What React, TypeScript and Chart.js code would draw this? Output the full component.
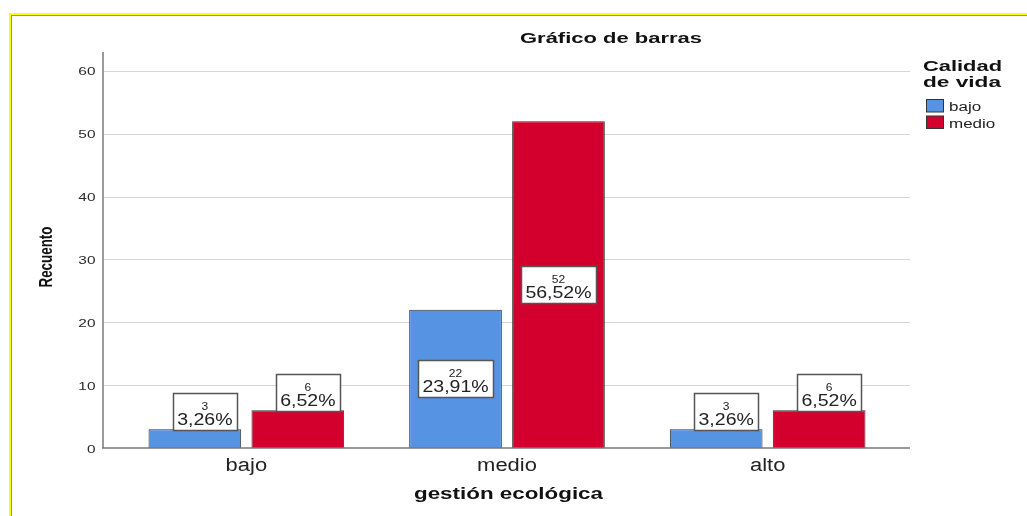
import React, { useEffect, useRef } from "react";
import { Chart, registerables } from "chart.js";

Chart.register(...registerables);

const categories = ["bajo", "medio", "alto"];
const seriesNames = ["bajo", "medio"];
const bajoCounts = [3, 22, 3];
const medioCounts = [6, 52, 6];
const bajoPercents = ["3,26%", "23,91%", "3,26%"];
const medioPercents = ["6,52%", "56,52%", "6,52%"];
const yTickValues = [0, 10, 20, 30, 40, 50, 60];
const chartTitle = "Gráfico de barras";
const legendTitle = ["Calidad", "de vida"];
const xAxisTitle = "gestión ecológica";
const yAxisTitle = "Recuento";

const BLUE = "#5694e3";
const RED = "#d3002e";
const FONT = "'Liberation Sans', Arial, sans-serif";

type Opts = { align?: CanvasTextAlign; width?: number; sx?: number; color?: string; baseline?: CanvasTextBaseline };

function drawText(ctx: CanvasRenderingContext2D, text: string, x: number, y: number, font: string, o: Opts = {}) {
  ctx.save();
  ctx.font = font;
  const w = ctx.measureText(text).width;
  const s = o.width ? o.width / w : o.sx ?? 1;
  ctx.translate(x, y);
  ctx.scale(s, 1);
  ctx.textAlign = o.align ?? "left";
  ctx.textBaseline = o.baseline ?? "alphabetic";
  ctx.fillStyle = o.color ?? "#111";
  ctx.fillText(text, 0, 0);
  ctx.restore();
  return w * s;
}

const decorPlugin = {
  id: "decor",
  beforeDatasetsDraw(chart: any) {
    const ctx: CanvasRenderingContext2D = chart.ctx;
    const ys = chart.scales.y;
    const area = chart.chartArea;
    const left = area.left - 13;
    const right = area.right + 12;
    ctx.save();
    ctx.strokeStyle = "#d6d6d6";
    ctx.lineWidth = 1.2;
    yTickValues.forEach((v) => {
      if (v === 0) return;
      const py = Math.round(ys.getPixelForValue(v)) + 0.5;
      ctx.beginPath();
      ctx.moveTo(left, py);
      ctx.lineTo(right, py);
      ctx.stroke();
    });
    ctx.strokeStyle = "#9a9a9a";
    ctx.lineWidth = 2;
    ctx.beginPath();
    ctx.moveTo(left, area.top);
    ctx.lineTo(left, ys.getPixelForValue(0));
    ctx.stroke();
    ctx.restore();
    yTickValues.forEach((v) => {
      const py = ys.getPixelForValue(v) + 1.5;
      drawText(ctx, String(v), left - 7.5, py, `11px ${FONT}`, { align: "right", sx: 1.4, baseline: "middle", color: "#2a2a2a" });
    });
  },
  afterDatasetsDraw(chart: any) {
    const ctx: CanvasRenderingContext2D = chart.ctx;
    const ys = chart.scales.y;
    const xs = chart.scales.x;
    const area = chart.chartArea;
    const left = area.left - 13;
    const right = area.right + 12;
    const y0 = ys.getPixelForValue(0);
    ctx.save();
    ctx.strokeStyle = "#777";
    ctx.lineWidth = 1.5;
    ctx.beginPath();
    ctx.moveTo(left - 1, y0);
    ctx.lineTo(right, y0);
    ctx.stroke();
    ctx.restore();

    const counts = [bajoCounts, medioCounts];
    const pcts = [bajoPercents, medioPercents];
    counts.forEach((arr, di) => {
      const meta = chart.getDatasetMeta(di);
      meta.data.forEach((bar: any, i: number) => {
        ctx.save();
        ctx.font = `16px ${FONT}`;
        const pw = ctx.measureText(pcts[di][i]).width * 1.22;
        ctx.restore();
        const bw = Math.round(pw + 9);
        const bh = 37;
        const hgt = bar.base - bar.y;
        let top: number;
        let cx = bar.x;
        if (hgt >= bh + 10) top = (bar.y + bar.base) / 2 - bh / 2;
        else {
          top = bar.y + 1 - bh;
          cx = bar.x + 10;
        }
        top = Math.round(top) + 0.5;
        const bl = Math.round(cx - bw / 2) + 0.5;
        ctx.save();
        ctx.fillStyle = "#ffffff";
        ctx.strokeStyle = "#555";
        ctx.lineWidth = 1.5;
        ctx.fillRect(bl, top, bw, bh);
        ctx.strokeRect(bl, top, bw, bh);
        ctx.restore();
        drawText(ctx, String(arr[i]), cx, top + 16, `10px ${FONT}`, { align: "center", sx: 1.2, color: "#222" });
        drawText(ctx, pcts[di][i], cx, top + 31.5, `16px ${FONT}`, { align: "center", sx: 1.22, color: "#222" });
      });
    });

    categories.forEach((c, i) => {
      const px = xs.getPixelForValue(i);
      drawText(ctx, c, px, 471, `18px ${FONT}`, { align: "center", sx: 1.22, color: "#222" });
    });

    drawText(ctx, chartTitle, 611, 43, `bold 15px ${FONT}`, { align: "center", width: 182 });
    drawText(ctx, xAxisTitle, (left + right) / 2 + 2, 499, `bold 17px ${FONT}`, { align: "center", width: 189 });
    ctx.save();
    ctx.translate(47, 257);
    ctx.rotate(-Math.PI / 2);
    drawText(ctx, yAxisTitle, 0, 0, `bold 19px ${FONT}`, { align: "center", width: 61, baseline: "middle" });
    ctx.restore();

    drawText(ctx, legendTitle[0], 923, 71, `bold 15px ${FONT}`, { width: 79 });
    drawText(ctx, legendTitle[1], 923, 87, `bold 15px ${FONT}`, { width: 78 });
    const colors = [BLUE, RED];
    seriesNames.forEach((n, i) => {
      const by = 99.5 + i * 16.5;
      ctx.save();
      ctx.fillStyle = colors[i];
      ctx.strokeStyle = "#333";
      ctx.lineWidth = 1;
      ctx.fillRect(926.5, by, 17, 12.5);
      ctx.strokeRect(926.5, by, 17, 12.5);
      ctx.restore();
      drawText(ctx, n, 949, 111 + i * 17, `12.5px ${FONT}`, { sx: 1.36, color: "#222" });
    });
  },
};

export default function App() {
  const ref = useRef<HTMLCanvasElement | null>(null);
  useEffect(() => {
    if (!ref.current) return;
    const chart = new Chart(ref.current, {
      type: "bar",
      data: {
        labels: categories,
        datasets: [
          { label: seriesNames[0], data: bajoCounts, backgroundColor: BLUE, borderColor: "#333", borderWidth: 1 },
          { label: seriesNames[1], data: medioCounts, backgroundColor: RED, borderColor: "#333", borderWidth: 1 },
        ],
      },
      options: {
        responsive: false,
        animation: false,
        devicePixelRatio: 1,
        categoryPercentage: 0.79,
        barPercentage: 0.9,
        layout: { padding: { left: 0, right: 129, top: 52, bottom: 0 } },
        plugins: { legend: { display: false }, title: { display: false }, tooltip: { enabled: false } },
        scales: {
          x: {
            ticks: { display: false },
            grid: { display: false },
            border: { display: false },
            afterFit: (s: any) => { s.height = 68; },
          },
          y: {
            min: 0,
            max: 63,
            ticks: { display: false, stepSize: 10 },
            grid: { display: false },
            border: { display: false },
            afterFit: (s: any) => { s.width = 116; },
          },
        },
      } as any,
      plugins: [decorPlugin],
    });
    return () => chart.destroy();
  }, []);
  return (
    <div style={{ position: "fixed", left: 0, top: 0, width: 1027, height: 516, background: "#fff", overflow: "hidden" }}>
      <canvas ref={ref} width={1027} height={516} style={{ position: "absolute", left: 0, top: 0, width: 1027, height: 516 }} />
      <div style={{ position: "absolute", left: 9, top: 13, width: 1018, height: 503, borderTop: "2px solid #ffff00", borderLeft: "2px solid #ffff00", boxSizing: "border-box", pointerEvents: "none" }} />
      <div style={{ position: "absolute", left: 11, top: 15, width: 1016, height: 501, borderTop: "1.5px solid #7090d0", borderLeft: "1.5px solid #7090d0", boxSizing: "border-box", pointerEvents: "none" }} />
    </div>
  );
}
